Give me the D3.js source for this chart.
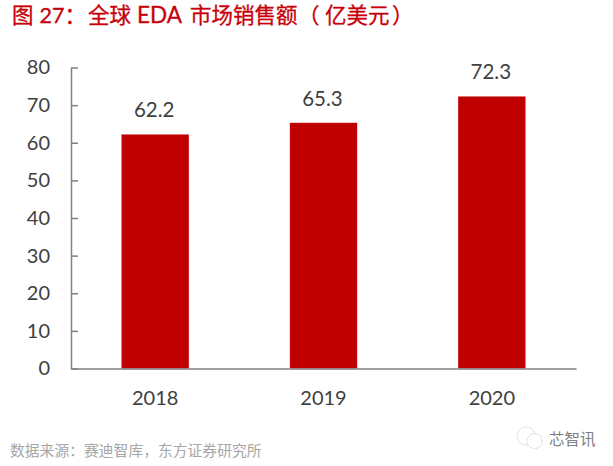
<!DOCTYPE html>
<html>
<head>
<meta charset="utf-8">
<script src="https://cdn.jsdelivr.net/npm/d3@7"></script>
<style>
  html, body { margin: 0; padding: 0; background: #fff; }
  text { font-family: Lato, "Noto Sans CJK SC", sans-serif; }
</style>
</head>
<body>
<div class="board"></div>
<script>
var years = ['2018', '2019', '2020'];
var sales = [62.2, 65.3, 72.3];
var yTicks = [0, 10, 20, 30, 40, 50, 60, 70, 80];

var width = 613;
var height = 466;
var cjk = '"Noto Sans CJK SC", sans-serif';

var svg = d3.select('.board')
  .append('svg')
  .attr('width', width)
  .attr('height', height)
  .style('display', 'block');

var x = d3.scaleBand().domain(years).range([71, 576]).paddingInner(0.6).paddingOuter(0.3);
var y = d3.scaleLinear().domain([0, 80]).range([368.5, 67.5]);

// bars first, axes sit on top of them
svg.selectAll('rect.bar')
  .data(sales)
  .enter()
  .append('rect')
  .attr('class', 'bar')
  .attr('x', function (d, i) { return x(years[i]); })
  .attr('y', function (d) { return y(d); })
  .attr('width', x.bandwidth())
  .attr('height', function (d) { return y(0) - y(d); })
  .attr('fill', '#c00000');

svg.selectAll('text.value')
  .data(sales)
  .enter()
  .append('text')
  .attr('class', 'value')
  .attr('x', function (d, i) { return x(years[i]) + x.bandwidth() / 2 - 1; })
  .attr('y', function (d) { return y(d) - 17; })
  .attr('text-anchor', 'middle')
  .attr('font-size', 20.5)
  .attr('fill', '#404040')
  .text(function (d) { return d.toFixed(1); });

svg.append('g')
  .attr('transform', 'translate(71,0)')
  .call(d3.axisLeft(y).tickValues(yTicks).tickSize(-7).tickPadding(21).tickSizeOuter(0));

svg.append('g')
  .attr('transform', 'translate(0,368.5)')
  .call(d3.axisBottom(x).tickSize(0).tickPadding(22));

svg.selectAll('.domain, .tick line')
  .attr('stroke', '#808080')
  .attr('stroke-width', 1.5);

svg.selectAll('.tick text')
  .attr('font-size', 20)
  .attr('font-family', 'Lato')
  .attr('fill', '#404040');

// title pieces are spaced by hand, the source has wide gaps around the brackets
var title = svg.append('text')
  .attr('x', 12)
  .attr('y', 22.5)
  .attr('font-size', 21.5)
  .attr('font-family', '"Liberation Sans", ' + cjk)
  .attr('fill', '#c8000a')
  .attr('stroke', '#c8000a')
  .attr('stroke-width', 0.3);
title.append('tspan').text('图');
title.append('tspan').attr('dx', 6).text('27：');
title.append('tspan').attr('x', 88).text('全球');
title.append('tspan').attr('x', 137).attr('font-size', 22.5).text('EDA');
title.append('tspan').attr('x', 190).text('市场销售额');
title.append('tspan').attr('x', 298).text('（');
title.append('tspan').attr('x', 325).text('亿美元');
title.append('tspan').attr('x', 392).text('）');

svg.append('text')
  .attr('x', 10)
  .attr('y', 455.5)
  .attr('font-size', 14.8)
  .attr('font-family', cjk)
  .attr('fill', '#a6a6a6')
  .text('数据来源：赛迪智库，东方证券研究所');

// watermark icon
var mark = svg.append('g')
  .attr('fill', '#fff')
  .attr('stroke', '#b5b5b5')
  .attr('stroke-width', 0.8)
  .attr('stroke-dasharray', '1.5 1.5');
mark.append('circle').attr('cx', 526).attr('cy', 436).attr('r', 9);
mark.append('circle').attr('cx', 534.5).attr('cy', 441).attr('r', 7.5);

svg.append('text')
  .attr('x', 549)
  .attr('y', 445)
  .attr('font-size', 15.5)
  .attr('font-family', cjk)
  .attr('fill', '#808080')
  .text('芯智讯');
</script>
</body>
</html>
